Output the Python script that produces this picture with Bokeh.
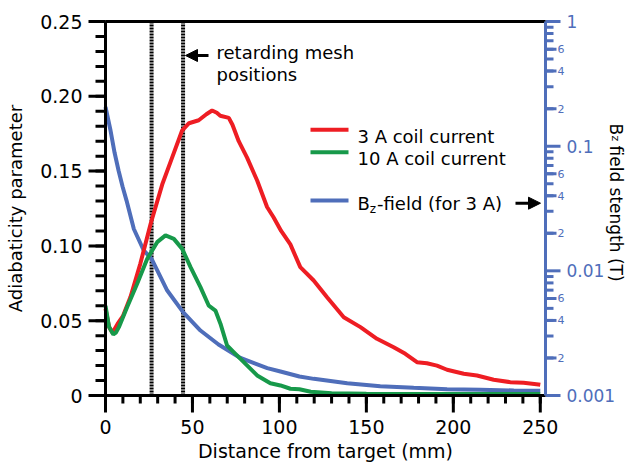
import math
from bokeh.plotting import figure
from bokeh.models import (Range1d, LogScale, LinearAxis, LogAxis, FixedTicker,
                          Label, Arrow, NormalHead, PrintfTickFormatter)
from bokeh.embed import file_html
from bokeh.resources import INLINE

FONT = "DejaVu Sans"
RED = "#EE1D23"
GREEN = "#17994A"
BLUE = "#4F6EBA"

# ---- data ----
red_x = [0, 2, 4, 7, 10, 14.4, 20, 26, 32.6, 38.3, 44, 48, 53.6, 58, 61.3, 64, 66, 70.9, 73,
         76.6, 81.4, 87.2, 92.9, 96.7, 101, 106.3, 112, 119.7, 127.4, 137, 146.6, 156.1,
         165.7, 172.4, 179.1, 184.8, 190.6, 196.4, 206, 213.6, 223.2, 232.8, 240.4, 249, 250]
red_y = [0.058, 0.046, 0.042, 0.048, 0.053, 0.066, 0.088, 0.115, 0.141, 0.159, 0.177, 0.182,
         0.184, 0.188, 0.1905, 0.189, 0.187, 0.1856, 0.181, 0.170, 0.159, 0.1437, 0.126, 0.119,
         0.110, 0.101, 0.0858, 0.0769, 0.0657, 0.0523, 0.0457, 0.0379, 0.0323, 0.0279, 0.0223,
         0.0216, 0.020, 0.0172, 0.0145, 0.0134, 0.0105, 0.0089, 0.0085, 0.0074, 0.0072]

green_x = [0, 2, 4.5, 6, 7.7, 12.4, 18.2, 24, 29.7, 34.5, 39.3, 44.1, 48.9, 54.6, 59.4, 63.2,
           66.1, 69.9, 73.7, 79.5, 87.2, 94.8, 100.6, 106.3, 111.5, 118, 130, 150, 200, 250]
green_y = [0.060, 0.046, 0.0408, 0.042, 0.0457, 0.059, 0.0747, 0.0914, 0.1025, 0.107, 0.1047,
           0.098, 0.0858, 0.0724, 0.060, 0.0568, 0.048, 0.0334, 0.029, 0.0223, 0.0134, 0.0082,
           0.0067, 0.0045, 0.0042, 0.0025, 0.0015, 0.0012, 0.0010, 0.0010]

bz_x = [0, 2.9, 5.2, 7.5, 9.8, 12.1, 16.3, 22, 26.5, 35.5, 44.6, 54.6, 65, 77.6, 93, 100.6,
        111.5, 119.8, 139, 158, 177.2, 196.4, 215.6, 234.8, 250]
bz_y = [0.206, 0.1335, 0.0889, 0.0638, 0.0475, 0.0366, 0.02165, 0.01456, 0.01249, 0.00695,
        0.00466, 0.00332, 0.002565, 0.0020, 0.00166, 0.001557, 0.00142, 0.00136, 0.001255,
        0.001187, 0.001153, 0.001123, 0.001111, 0.001097, 0.00109]

mesh_positions = [26.5, 44.6]

x_ticks = [0, 50, 100, 150, 200, 250]
x_minor = [v for v in range(0, 251, 10)]
y_ticks = [0, 0.05, 0.10, 0.15, 0.20, 0.25]
y_minor = [i / 100 for i in range(0, 26)]
bz_major = [0.001, 0.01, 0.1, 1]
bz_major_labels = ["0.001", "0.01", "0.1", "1"]
bz_minor = [0.002, 0.003, 0.004, 0.005, 0.006, 0.007, 0.008, 0.009,
            0.02, 0.03, 0.04, 0.05, 0.06, 0.07, 0.08, 0.09,
            0.2, 0.3, 0.4, 0.5, 0.6, 0.7, 0.8, 0.9]
bz_minor_labeled = [0.002, 0.004, 0.006, 0.02, 0.04, 0.06, 0.2, 0.4, 0.6]
bz_minor_labels = ["2", "4", "6", "2", "4", "6", "2", "4", "6"]

X0, X1 = 0, 253          # plotted distance span
Y0, Y1 = 0, 0.25         # adiabaticity span
B0, B1 = 0.001, 1        # field span

# ---- geometry: the frame covers the whole canvas, axes sit at fixed places ----
W, H = 632, 465
L_PX, R_PX, T_PX, B_PX = 105, 545, 21, 395
PXX = (R_PX - L_PX) / (X1 - X0)
PXY = (B_PX - T_PX) / (Y1 - Y0)
PXL = (B_PX - T_PX) / (math.log10(B1) - math.log10(B0))

def sx(px):
    return X0 + (px - L_PX) / PXX

def sy(py):
    return Y0 + (B_PX - py) / PXY

def lb(py):
    return 10 ** (math.log10(B0) + (B_PX - py) / PXL)

p = figure(width=W, height=H, output_backend="svg", toolbar_location=None,
           x_range=Range1d(sx(0), sx(W)), y_range=Range1d(sy(H), sy(0)),
           min_border=0, x_axis_location=None, y_axis_location=None)
p.extra_y_ranges = {"bz": Range1d(lb(H), lb(0))}
p.extra_y_scales = {"bz": LogScale()}
p.outline_line_color = "white"
p.background_fill_color = "white"
p.border_fill_color = "white"
p.xgrid.grid_line_color = None
p.ygrid.grid_line_color = None

def style_axis(ax, color="black"):
    ax.axis_line_color = color
    ax.axis_line_width = 3
    ax.major_tick_out = 0
    ax.major_tick_in = 0
    ax.minor_tick_out = 0
    ax.minor_tick_in = 0
    ax.major_label_text_font = FONT
    ax.major_label_text_color = color
    ax.axis_label_text_font = FONT
    ax.axis_label_text_font_style = "normal"
    ax.axis_label_text_color = "black"

# tick marks drawn from the tick lists (outward, 3 px wide)
def ticks_y(values, length, x_axis, side, color, **kw):
    xe = sx(L_PX - length) if side == "left" else sx(R_PX + length)
    p.segment(x0=[x_axis] * len(values), y0=values, x1=[xe] * len(values), y1=values,
              line_color=color, line_width=3, **kw)

def ticks_x(values, length, color="black"):
    p.segment(x0=values, y0=[Y0] * len(values), x1=values, y1=[sy(B_PX + length)] * len(values),
              line_color=color, line_width=3)

# left axis
ly = LinearAxis(fixed_location=X0, bounds=(Y0, Y1))
style_axis(ly)
ly.ticker = FixedTicker(ticks=y_ticks, minor_ticks=y_minor)
ly.formatter = PrintfTickFormatter(format="%.2f")
ly.major_label_overrides = {0: "0"}
ly.major_label_text_font_size = "19px"
ly.major_label_standoff = 23
ly.axis_label = "Adiabaticity parameter"
ly.axis_label_text_font_size = "18px"
ly.axis_label_standoff = 11
p.add_layout(ly, "left")
ticks_y(y_minor, 10, X0, "left", "black")
ticks_y(y_ticks, 17, X0, "left", "black")

# bottom axis
bx = LinearAxis(fixed_location=Y0, bounds=(X0, X1))
style_axis(bx)
bx.ticker = FixedTicker(ticks=x_ticks, minor_ticks=x_minor)
bx.major_label_text_font_size = "19px"
bx.major_label_standoff = 24
bx.axis_label = "Distance from target (mm)"
bx.axis_label_text_font_size = "19px"
bx.axis_label_standoff = 3
p.add_layout(bx, "below")
ticks_x(x_minor, 8)
ticks_x(x_ticks, 17)

# top line
top = LinearAxis(fixed_location=Y1, bounds=(X0, X1), ticker=FixedTicker(ticks=[]),
                 major_tick_out=0, minor_tick_out=0, major_label_text_font_size="0px",
                 axis_line_width=3, axis_line_color="black")
p.add_layout(top, "above")

# right log axis
ra = LogAxis(y_range_name="bz", fixed_location=X1, bounds=(B0, B1),
             ticker=FixedTicker(ticks=bz_major, minor_ticks=bz_minor))
style_axis(ra, BLUE)
ra.major_label_text_font_size = "17px"
ra.major_label_standoff = 21
ra.major_label_overrides = dict(zip(bz_major, bz_major_labels))
p.add_layout(ra, "right")
ticks_y(bz_minor, 8, X1, "right", BLUE, y_range_name="bz")
ticks_y(bz_minor_labeled, 11, X1, "right", BLUE, y_range_name="bz")
ticks_y(bz_major, 15, X1, "right", BLUE, y_range_name="bz")

# labels 2, 4, 6 beside the labelled minor ticks of the log axis
for v, t in zip(bz_minor_labeled, bz_minor_labels):
    p.add_layout(Label(x=sx(557), y=v, y_range_name="bz", text=t, text_font=FONT,
                       text_font_size="11px", text_color=BLUE, text_baseline="middle"))

# mesh positions (dotted verticals over the plotted span)
p.segment(x0=mesh_positions, y0=[Y0] * len(mesh_positions), x1=mesh_positions,
          y1=[Y1] * len(mesh_positions), line_color="black", line_width=4, line_dash="2 1")

# curves
p.line(bz_x, bz_y, y_range_name="bz", line_color=BLUE, line_width=4)
p.line(red_x, red_y, line_color=RED, line_width=4)
p.line(green_x, green_y, line_color=GREEN, line_width=4)

# legend (manual)
for color, py in [(RED, 129.3), (GREEN, 151.7), (BLUE, 200)]:
    p.add_layout(Arrow(x_start=sx(310), y_start=sy(py), x_end=sx(348), y_end=sy(py),
                       start=None, end=None, line_color=color, line_width=4))

def lab(text, px, py, size="18px", **kw):
    p.add_layout(Label(x=sx(px), y=sy(py), text=text, text_font=FONT, text_font_size=size,
                       text_color="black", text_baseline="alphabetic", **kw))

lab("3 A coil current", 357, 136)
lab("10 A coil current", 357, 158.3)
lab("B", 357, 203.3)
lab("z", 369.3, 208.3, size="12px")
lab("-field (for 3 A)", 376.5, 203.3)

lab("retarding mesh", 216, 51.7)
lab("positions", 216, 74)

p.add_layout(Arrow(x_start=sx(208), y_start=sy(55), x_end=sx(185), y_end=sy(55),
                   line_color="black", line_width=3,
                   end=NormalHead(size=12, fill_color="black", line_color="black", line_width=1)))
p.add_layout(Arrow(x_start=sx(515), y_start=sy(202.7), x_end=sx(540), y_end=sy(202.7),
                   line_color="black", line_width=3,
                   end=NormalHead(size=12, fill_color="black", line_color="black", line_width=1)))

# right axis title (rotated, reading top to bottom)
lab("B", 615, 123, size="17px", angle=-math.pi / 2)
lab("z", 615, 135, size="11px", angle=-math.pi / 2)
lab("field stength (T)", 615, 145, size="17px", angle=-math.pi / 2)

open("out.html", "w").write(file_html(p, INLINE))
